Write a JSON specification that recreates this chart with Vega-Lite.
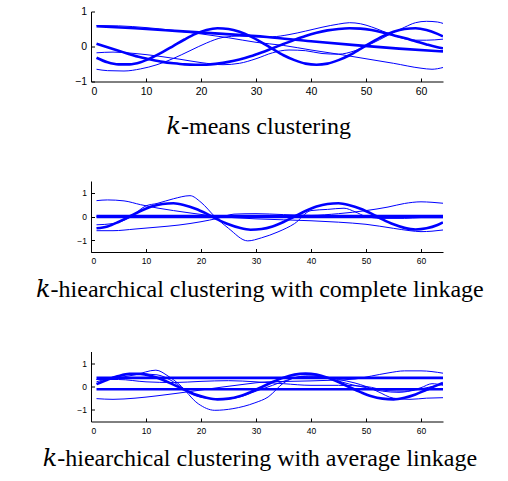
{
  "$schema": "https://vega.github.io/schema/vega-lite/v6.json",
  "padding": {"left": 36, "top": 6.5, "right": 5, "bottom": 5},
  "background": "white",
  "bounds": "flush",
  "spacing": 99.5,
  "config": {
    "view": {"stroke": null},
    "axis": {"grid": false, "domainColor": "#000000", "tickColor": "#000000", "labelColor": "#000000", "labelFont": "Liberation Sans", "tickSize": -3.5, "domainWidth": 1, "tickWidth": 1, "title": null, "format": "d"}
  },
  "datasets": {
    "kmeans": [
      {"s":"A","w":"thick","x":1,"y":0.58},{"s":"A","w":"thick","x":8,"y":0.52},{"s":"A","w":"thick","x":16,"y":0.44},{"s":"A","w":"thick","x":24,"y":0.36},{"s":"A","w":"thick","x":32,"y":0.27},{"s":"A","w":"thick","x":40,"y":0.15},{"s":"A","w":"thick","x":48,"y":0.04},{"s":"A","w":"thick","x":56,"y":-0.06},{"s":"A","w":"thick","x":64,"y":-0.14},
      {"s":"B","w":"thick","x":1,"y":-0.32},{"s":"B","w":"thick","x":3,"y":-0.45},{"s":"B","w":"thick","x":5,"y":-0.51},{"s":"B","w":"thick","x":7,"y":-0.51},{"s":"B","w":"thick","x":9,"y":-0.45},{"s":"B","w":"thick","x":11,"y":-0.32},{"s":"B","w":"thick","x":13,"y":-0.16},{"s":"B","w":"thick","x":15,"y":0.02},{"s":"B","w":"thick","x":17,"y":0.2},{"s":"B","w":"thick","x":19,"y":0.36},{"s":"B","w":"thick","x":21,"y":0.47},{"s":"B","w":"thick","x":23,"y":0.52},{"s":"B","w":"thick","x":25,"y":0.5},{"s":"B","w":"thick","x":27,"y":0.42},{"s":"B","w":"thick","x":29,"y":0.29},{"s":"B","w":"thick","x":31,"y":0.12},{"s":"B","w":"thick","x":33,"y":-0.07},{"s":"B","w":"thick","x":35,"y":-0.25},{"s":"B","w":"thick","x":37,"y":-0.39},{"s":"B","w":"thick","x":39,"y":-0.49},{"s":"B","w":"thick","x":41,"y":-0.52},{"s":"B","w":"thick","x":43,"y":-0.49},{"s":"B","w":"thick","x":45,"y":-0.39},{"s":"B","w":"thick","x":47,"y":-0.25},{"s":"B","w":"thick","x":49,"y":-0.07},{"s":"B","w":"thick","x":51,"y":0.12},{"s":"B","w":"thick","x":53,"y":0.29},{"s":"B","w":"thick","x":55,"y":0.42},{"s":"B","w":"thick","x":57,"y":0.5},{"s":"B","w":"thick","x":59,"y":0.52},{"s":"B","w":"thick","x":61,"y":0.47},{"s":"B","w":"thick","x":63,"y":0.36},{"s":"B","w":"thick","x":64,"y":0.29},
      {"s":"C","w":"thick","x":1,"y":0.08},{"s":"C","w":"thick","x":3,"y":-0.02},{"s":"C","w":"thick","x":5,"y":-0.12},{"s":"C","w":"thick","x":7,"y":-0.22},{"s":"C","w":"thick","x":9,"y":-0.31},{"s":"C","w":"thick","x":11,"y":-0.38},{"s":"C","w":"thick","x":13,"y":-0.44},{"s":"C","w":"thick","x":15,"y":-0.48},{"s":"C","w":"thick","x":17,"y":-0.51},{"s":"C","w":"thick","x":19,"y":-0.52},{"s":"C","w":"thick","x":21,"y":-0.52},{"s":"C","w":"thick","x":23,"y":-0.49},{"s":"C","w":"thick","x":25,"y":-0.44},{"s":"C","w":"thick","x":27,"y":-0.37},{"s":"C","w":"thick","x":29,"y":-0.28},{"s":"C","w":"thick","x":31,"y":-0.17},{"s":"C","w":"thick","x":33,"y":-0.05},{"s":"C","w":"thick","x":35,"y":0.07},{"s":"C","w":"thick","x":37,"y":0.19},{"s":"C","w":"thick","x":39,"y":0.3},{"s":"C","w":"thick","x":41,"y":0.39},{"s":"C","w":"thick","x":43,"y":0.46},{"s":"C","w":"thick","x":45,"y":0.5},{"s":"C","w":"thick","x":47,"y":0.52},{"s":"C","w":"thick","x":49,"y":0.51},{"s":"C","w":"thick","x":51,"y":0.47},{"s":"C","w":"thick","x":53,"y":0.4},{"s":"C","w":"thick","x":55,"y":0.32},{"s":"C","w":"thick","x":57,"y":0.24},{"s":"C","w":"thick","x":59,"y":0.15},{"s":"C","w":"thick","x":61,"y":0.06},{"s":"C","w":"thick","x":63,"y":-0.02},{"s":"C","w":"thick","x":64,"y":-0.05},
      {"s":"T1","w":"thin","x":1,"y":0.6},{"s":"T1","w":"thin","x":5,"y":0.59},{"s":"T1","w":"thin","x":10,"y":0.54},{"s":"T1","w":"thin","x":15,"y":0.46},{"s":"T1","w":"thin","x":20,"y":0.36},{"s":"T1","w":"thin","x":25,"y":0.25},{"s":"T1","w":"thin","x":30,"y":0.12},{"s":"T1","w":"thin","x":35,"y":0.03},{"s":"T1","w":"thin","x":40,"y":-0.1},{"s":"T1","w":"thin","x":45,"y":-0.22},{"s":"T1","w":"thin","x":50,"y":-0.35},{"s":"T1","w":"thin","x":55,"y":-0.48},{"s":"T1","w":"thin","x":60,"y":-0.62},{"s":"T1","w":"thin","x":62,"y":-0.65},{"s":"T1","w":"thin","x":64,"y":-0.6},
      {"s":"T2","w":"thin","x":1,"y":-0.18},{"s":"T2","w":"thin","x":4,"y":-0.16},{"s":"T2","w":"thin","x":8,"y":-0.2},{"s":"T2","w":"thin","x":12,"y":-0.27},{"s":"T2","w":"thin","x":16,"y":-0.36},{"s":"T2","w":"thin","x":20,"y":-0.46},{"s":"T2","w":"thin","x":24,"y":-0.52},{"s":"T2","w":"thin","x":27,"y":-0.48},{"s":"T2","w":"thin","x":30,"y":-0.35},{"s":"T2","w":"thin","x":33,"y":-0.18},{"s":"T2","w":"thin","x":36,"y":-0.1},{"s":"T2","w":"thin","x":39,"y":-0.12},{"s":"T2","w":"thin","x":42,"y":-0.2},{"s":"T2","w":"thin","x":45,"y":-0.22},{"s":"T2","w":"thin","x":48,"y":-0.12},{"s":"T2","w":"thin","x":51,"y":0.08},{"s":"T2","w":"thin","x":54,"y":0.32},{"s":"T2","w":"thin","x":57,"y":0.55},{"s":"T2","w":"thin","x":59,"y":0.68},{"s":"T2","w":"thin","x":61,"y":0.72},{"s":"T2","w":"thin","x":63,"y":0.7},{"s":"T2","w":"thin","x":64,"y":0.66},
      {"s":"T3","w":"thin","x":1,"y":-0.65},{"s":"T3","w":"thin","x":3,"y":-0.69},{"s":"T3","w":"thin","x":6,"y":-0.7},{"s":"T3","w":"thin","x":9,"y":-0.64},{"s":"T3","w":"thin","x":12,"y":-0.52},{"s":"T3","w":"thin","x":15,"y":-0.34},{"s":"T3","w":"thin","x":18,"y":-0.12},{"s":"T3","w":"thin","x":21,"y":0.1},{"s":"T3","w":"thin","x":24,"y":0.26},{"s":"T3","w":"thin","x":27,"y":0.3},{"s":"T3","w":"thin","x":30,"y":0.28},{"s":"T3","w":"thin","x":33,"y":0.28},{"s":"T3","w":"thin","x":36,"y":0.34},{"s":"T3","w":"thin","x":39,"y":0.44},{"s":"T3","w":"thin","x":42,"y":0.55},{"s":"T3","w":"thin","x":45,"y":0.64},{"s":"T3","w":"thin","x":47,"y":0.68},{"s":"T3","w":"thin","x":49,"y":0.65},{"s":"T3","w":"thin","x":51,"y":0.56},{"s":"T3","w":"thin","x":53,"y":0.44},{"s":"T3","w":"thin","x":55,"y":0.32},{"s":"T3","w":"thin","x":57,"y":0.22},{"s":"T3","w":"thin","x":59,"y":0.18},{"s":"T3","w":"thin","x":61,"y":0.18},{"s":"T3","w":"thin","x":64,"y":0.21}
    ],
    "complete": [
      {"s":"Z1","w":"thick","x":1,"y":0.02},{"s":"Z1","w":"thick","x":64,"y":0.02},
      {"s":"Z2","w":"thick","x":1,"y":-0.02},{"s":"Z2","w":"thick","x":64,"y":-0.02},
      {"s":"B2","w":"thick","x":1,"y":-0.5},{"s":"B2","w":"thick","x":3,"y":-0.42},{"s":"B2","w":"thick","x":5,"y":-0.23},{"s":"B2","w":"thick","x":7,"y":0.0},{"s":"B2","w":"thick","x":9,"y":0.23},{"s":"B2","w":"thick","x":11,"y":0.42},{"s":"B2","w":"thick","x":13,"y":0.53},{"s":"B2","w":"thick","x":15,"y":0.56},{"s":"B2","w":"thick","x":17,"y":0.48},{"s":"B2","w":"thick","x":19,"y":0.33},{"s":"B2","w":"thick","x":21,"y":0.12},{"s":"B2","w":"thick","x":23,"y":-0.12},{"s":"B2","w":"thick","x":25,"y":-0.33},{"s":"B2","w":"thick","x":27,"y":-0.48},{"s":"B2","w":"thick","x":29,"y":-0.56},{"s":"B2","w":"thick","x":31,"y":-0.53},{"s":"B2","w":"thick","x":33,"y":-0.42},{"s":"B2","w":"thick","x":35,"y":-0.23},{"s":"B2","w":"thick","x":37,"y":0.0},{"s":"B2","w":"thick","x":39,"y":0.23},{"s":"B2","w":"thick","x":41,"y":0.42},{"s":"B2","w":"thick","x":43,"y":0.53},{"s":"B2","w":"thick","x":45,"y":0.56},{"s":"B2","w":"thick","x":47,"y":0.48},{"s":"B2","w":"thick","x":49,"y":0.33},{"s":"B2","w":"thick","x":51,"y":0.12},{"s":"B2","w":"thick","x":53,"y":-0.12},{"s":"B2","w":"thick","x":55,"y":-0.33},{"s":"B2","w":"thick","x":57,"y":-0.48},{"s":"B2","w":"thick","x":59,"y":-0.55},{"s":"B2","w":"thick","x":61,"y":-0.5},{"s":"B2","w":"thick","x":63,"y":-0.36},{"s":"B2","w":"thick","x":64,"y":-0.25},
      {"s":"P1","w":"thin","x":1,"y":0.67},{"s":"P1","w":"thin","x":3,"y":0.7},{"s":"P1","w":"thin","x":6,"y":0.66},{"s":"P1","w":"thin","x":9,"y":0.5},{"s":"P1","w":"thin","x":12,"y":0.36},{"s":"P1","w":"thin","x":15,"y":0.25},{"s":"P1","w":"thin","x":18,"y":0.15},{"s":"P1","w":"thin","x":22,"y":0.03},{"s":"P1","w":"thin","x":26,"y":-0.05},{"s":"P1","w":"thin","x":30,"y":-0.1},{"s":"P1","w":"thin","x":35,"y":-0.14},{"s":"P1","w":"thin","x":40,"y":-0.18},{"s":"P1","w":"thin","x":45,"y":-0.24},{"s":"P1","w":"thin","x":50,"y":-0.33},{"s":"P1","w":"thin","x":55,"y":-0.5},{"s":"P1","w":"thin","x":58,"y":-0.6},{"s":"P1","w":"thin","x":60,"y":-0.64},{"s":"P1","w":"thin","x":62,"y":-0.62},{"s":"P1","w":"thin","x":64,"y":-0.57},
      {"s":"P2","w":"thin","x":1,"y":-0.6},{"s":"P2","w":"thin","x":4,"y":-0.6},{"s":"P2","w":"thin","x":8,"y":-0.53},{"s":"P2","w":"thin","x":12,"y":-0.45},{"s":"P2","w":"thin","x":16,"y":-0.36},{"s":"P2","w":"thin","x":20,"y":-0.22},{"s":"P2","w":"thin","x":23,"y":-0.08},{"s":"P2","w":"thin","x":26,"y":0.1},{"s":"P2","w":"thin","x":30,"y":0.12},{"s":"P2","w":"thin","x":35,"y":0.08},{"s":"P2","w":"thin","x":40,"y":0.05},{"s":"P2","w":"thin","x":45,"y":0.12},{"s":"P2","w":"thin","x":50,"y":0.25},{"s":"P2","w":"thin","x":54,"y":0.4},{"s":"P2","w":"thin","x":57,"y":0.55},{"s":"P2","w":"thin","x":60,"y":0.62},{"s":"P2","w":"thin","x":62,"y":0.6},{"s":"P2","w":"thin","x":64,"y":0.56},
      {"s":"P3","w":"thin","x":1,"y":-0.35},{"s":"P3","w":"thin","x":4,"y":-0.3},{"s":"P3","w":"thin","x":7,"y":-0.05},{"s":"P3","w":"thin","x":10,"y":0.45},{"s":"P3","w":"thin","x":12,"y":0.55},{"s":"P3","w":"thin","x":15,"y":0.75},{"s":"P3","w":"thin","x":18,"y":0.88},{"s":"P3","w":"thin","x":20,"y":0.6},{"s":"P3","w":"thin","x":22.5,"y":0.0},{"s":"P3","w":"thin","x":25,"y":-0.5},{"s":"P3","w":"thin","x":28.5,"y":-1.03},{"s":"P3","w":"thin","x":31,"y":-0.9},{"s":"P3","w":"thin","x":34,"y":-0.65},{"s":"P3","w":"thin","x":37,"y":-0.3},{"s":"P3","w":"thin","x":40,"y":0.25},{"s":"P3","w":"thin","x":43,"y":0.3},{"s":"P3","w":"thin","x":46,"y":0.35},{"s":"P3","w":"thin","x":48,"y":0.2},{"s":"P3","w":"thin","x":50,"y":0.0},{"s":"P3","w":"thin","x":53,"y":-0.08},{"s":"P3","w":"thin","x":57,"y":-0.08},{"s":"P3","w":"thin","x":60,"y":-0.05},{"s":"P3","w":"thin","x":64,"y":-0.05}
    ],
    "average": [
      {"s":"H1","w":"thick","x":1,"y":0.37},{"s":"H1","w":"thick","x":64,"y":0.37},
      {"s":"H2","w":"thick","x":1,"y":-0.12},{"s":"H2","w":"thick","x":64,"y":-0.12},
      {"s":"B3","w":"thick","x":1,"y":0.1},{"s":"B3","w":"thick","x":3,"y":0.29},{"s":"B3","w":"thick","x":5,"y":0.45},{"s":"B3","w":"thick","x":7,"y":0.54},{"s":"B3","w":"thick","x":9,"y":0.54},{"s":"B3","w":"thick","x":11,"y":0.45},{"s":"B3","w":"thick","x":13,"y":0.29},{"s":"B3","w":"thick","x":15,"y":0.08},{"s":"B3","w":"thick","x":17,"y":-0.14},{"s":"B3","w":"thick","x":19,"y":-0.34},{"s":"B3","w":"thick","x":21,"y":-0.48},{"s":"B3","w":"thick","x":23,"y":-0.55},{"s":"B3","w":"thick","x":25,"y":-0.52},{"s":"B3","w":"thick","x":27,"y":-0.42},{"s":"B3","w":"thick","x":29,"y":-0.24},{"s":"B3","w":"thick","x":31,"y":-0.03},{"s":"B3","w":"thick","x":33,"y":0.19},{"s":"B3","w":"thick","x":35,"y":0.38},{"s":"B3","w":"thick","x":37,"y":0.51},{"s":"B3","w":"thick","x":39,"y":0.55},{"s":"B3","w":"thick","x":41,"y":0.51},{"s":"B3","w":"thick","x":43,"y":0.38},{"s":"B3","w":"thick","x":45,"y":0.19},{"s":"B3","w":"thick","x":47,"y":-0.03},{"s":"B3","w":"thick","x":49,"y":-0.24},{"s":"B3","w":"thick","x":51,"y":-0.42},{"s":"B3","w":"thick","x":53,"y":-0.52},{"s":"B3","w":"thick","x":55,"y":-0.55},{"s":"B3","w":"thick","x":57,"y":-0.48},{"s":"B3","w":"thick","x":59,"y":-0.34},{"s":"B3","w":"thick","x":61,"y":-0.14},{"s":"B3","w":"thick","x":63,"y":0.06},{"s":"B3","w":"thick","x":64,"y":0.15},
      {"s":"Q1","w":"thin","x":1,"y":-0.52},{"s":"Q1","w":"thin","x":4,"y":-0.55},{"s":"Q1","w":"thin","x":8,"y":-0.5},{"s":"Q1","w":"thin","x":12,"y":-0.4},{"s":"Q1","w":"thin","x":16,"y":-0.28},{"s":"Q1","w":"thin","x":20,"y":-0.15},{"s":"Q1","w":"thin","x":24,"y":-0.02},{"s":"Q1","w":"thin","x":28,"y":0.1},{"s":"Q1","w":"thin","x":32,"y":0.2},{"s":"Q1","w":"thin","x":36,"y":0.22},{"s":"Q1","w":"thin","x":40,"y":0.24},{"s":"Q1","w":"thin","x":44,"y":0.27},{"s":"Q1","w":"thin","x":48,"y":0.32},{"s":"Q1","w":"thin","x":51,"y":0.45},{"s":"Q1","w":"thin","x":54,"y":0.58},{"s":"Q1","w":"thin","x":57,"y":0.67},{"s":"Q1","w":"thin","x":60,"y":0.67},{"s":"Q1","w":"thin","x":64,"y":0.57},
      {"s":"Q2","w":"thin","x":1,"y":0.3},{"s":"Q2","w":"thin","x":4,"y":0.35},{"s":"Q2","w":"thin","x":8,"y":0.5},{"s":"Q2","w":"thin","x":11.8,"y":0.7},{"s":"Q2","w":"thin","x":14,"y":0.45},{"s":"Q2","w":"thin","x":16,"y":0.1},{"s":"Q2","w":"thin","x":19.5,"y":-0.74},{"s":"Q2","w":"thin","x":22.5,"y":-1.02},{"s":"Q2","w":"thin","x":25.8,"y":-0.95},{"s":"Q2","w":"thin","x":29.8,"y":-0.7},{"s":"Q2","w":"thin","x":32.2,"y":-0.45},{"s":"Q2","w":"thin","x":35,"y":0.15},{"s":"Q2","w":"thin","x":38,"y":0.42},{"s":"Q2","w":"thin","x":41,"y":0.45},{"s":"Q2","w":"thin","x":44,"y":0.3},{"s":"Q2","w":"thin","x":47,"y":0.1},{"s":"Q2","w":"thin","x":50,"y":-0.05},{"s":"Q2","w":"thin","x":53,"y":-0.2},{"s":"Q2","w":"thin","x":56,"y":-0.25},{"s":"Q2","w":"thin","x":59,"y":-0.15},{"s":"Q2","w":"thin","x":62,"y":0.0},{"s":"Q2","w":"thin","x":64,"y":0.1},
      {"s":"Q3","w":"thin","x":1,"y":0.2},{"s":"Q3","w":"thin","x":4,"y":0.4},{"s":"Q3","w":"thin","x":8,"y":0.55},{"s":"Q3","w":"thin","x":12,"y":0.5},{"s":"Q3","w":"thin","x":15,"y":0.2},{"s":"Q3","w":"thin","x":18,"y":-0.3},{"s":"Q3","w":"thin","x":21,"y":-0.5},{"s":"Q3","w":"thin","x":24,"y":-0.55},{"s":"Q3","w":"thin","x":27,"y":-0.45},{"s":"Q3","w":"thin","x":30,"y":-0.2},{"s":"Q3","w":"thin","x":33,"y":0.05},{"s":"Q3","w":"thin","x":36,"y":0.3},{"s":"Q3","w":"thin","x":39,"y":0.45},{"s":"Q3","w":"thin","x":42,"y":0.42},{"s":"Q3","w":"thin","x":45,"y":0.3},{"s":"Q3","w":"thin","x":48,"y":0.15},{"s":"Q3","w":"thin","x":50,"y":0.0},{"s":"Q3","w":"thin","x":52,"y":-0.2},{"s":"Q3","w":"thin","x":55,"y":-0.5},{"s":"Q3","w":"thin","x":58,"y":-0.55},{"s":"Q3","w":"thin","x":61,"y":-0.5},{"s":"Q3","w":"thin","x":64,"y":-0.48},
      {"s":"Q4","w":"thin","x":1,"y":0.3},{"s":"Q4","w":"thin","x":5,"y":0.3},{"s":"Q4","w":"thin","x":10,"y":0.2},{"s":"Q4","w":"thin","x":15,"y":0.17},{"s":"Q4","w":"thin","x":20,"y":0.22},{"s":"Q4","w":"thin","x":25,"y":0.25},{"s":"Q4","w":"thin","x":30,"y":0.2},{"s":"Q4","w":"thin","x":35,"y":0.12},{"s":"Q4","w":"thin","x":40,"y":0.05},{"s":"Q4","w":"thin","x":45,"y":0.05},{"s":"Q4","w":"thin","x":50,"y":0.0},{"s":"Q4","w":"thin","x":54,"y":-0.18},{"s":"Q4","w":"thin","x":57,"y":-0.2},{"s":"Q4","w":"thin","x":60,"y":-0.05},{"s":"Q4","w":"thin","x":62,"y":0.12},{"s":"Q4","w":"thin","x":64,"y":0.05}
    ]
  },
  "vconcat": [
    {
      "width": 352, "height": 70,
      "data": {"name": "kmeans"},
      "title": {"text": "𝑘-means clustering", "orient": "bottom", "frame": "bounds", "anchor": "middle", "font": "Liberation Serif, DejaVu Serif", "fontSize": 24, "fontWeight": "normal", "color": "#000000", "offset": 18},
      "mark": {"type": "line", "interpolate": "monotone", "clip": true, "color": "#0000ff"},
      "encoding": {
        "x": {"field": "x", "type": "quantitative", "scale": {"domain": [0, 64], "nice": false}, "axis": {"values": [0,10,20,30,40,50,60], "labelFontSize": 10.5, "labelPadding": 8}},
        "y": {"field": "y", "type": "quantitative", "scale": {"domain": [-1, 1], "nice": false}, "axis": {"values": [-1,0,1], "labelFontSize": 10.5, "labelPadding": 8}},
        "detail": {"field": "s"},
        "strokeWidth": {"field": "w", "type": "nominal", "scale": {"domain": ["thin", "thick"], "range": [1, 2.6]}, "legend": null}
      }
    },
    {
      "width": 352, "height": 71,
      "data": {"name": "complete"},
      "title": {"text": "𝑘-hiearchical clustering with complete linkage", "orient": "bottom", "frame": "bounds", "anchor": "middle", "font": "Liberation Serif, DejaVu Serif", "fontSize": 24, "fontWeight": "normal", "color": "#000000", "offset": 13},
      "mark": {"type": "line", "interpolate": "monotone", "clip": true, "color": "#0000ff"},
      "encoding": {
        "x": {"field": "x", "type": "quantitative", "scale": {"domain": [0, 64], "nice": false}, "axis": {"values": [0,10,20,30,40,50,60], "labelFontSize": 8.5, "labelPadding": 8}},
        "y": {"field": "y", "type": "quantitative", "scale": {"domain": [-1.5, 1.5], "nice": false}, "axis": {"values": [-1,0,1], "labelFontSize": 8.5, "labelPadding": 8}},
        "detail": {"field": "s"},
        "strokeWidth": {"field": "w", "type": "nominal", "scale": {"domain": ["thin", "thick"], "range": [1, 2.6]}, "legend": null}
      }
    },
    {
      "width": 352, "height": 70,
      "data": {"name": "average"},
      "title": {"text": "𝑘-hiearchical clustering with average linkage", "orient": "bottom", "frame": "bounds", "anchor": "middle", "font": "Liberation Serif, DejaVu Serif", "fontSize": 24, "fontWeight": "normal", "color": "#000000", "offset": 12.5},
      "mark": {"type": "line", "interpolate": "monotone", "clip": true, "color": "#0000ff"},
      "encoding": {
        "x": {"field": "x", "type": "quantitative", "scale": {"domain": [0, 64], "nice": false}, "axis": {"values": [0,10,20,30,40,50,60], "labelFontSize": 8.5, "labelPadding": 8}},
        "y": {"field": "y", "type": "quantitative", "scale": {"domain": [-1.5, 1.5], "nice": false}, "axis": {"values": [-1,0,1], "labelFontSize": 8.5, "labelPadding": 8}},
        "detail": {"field": "s"},
        "strokeWidth": {"field": "w", "type": "nominal", "scale": {"domain": ["thin", "thick"], "range": [1, 2.6]}, "legend": null}
      }
    }
  ]
}
